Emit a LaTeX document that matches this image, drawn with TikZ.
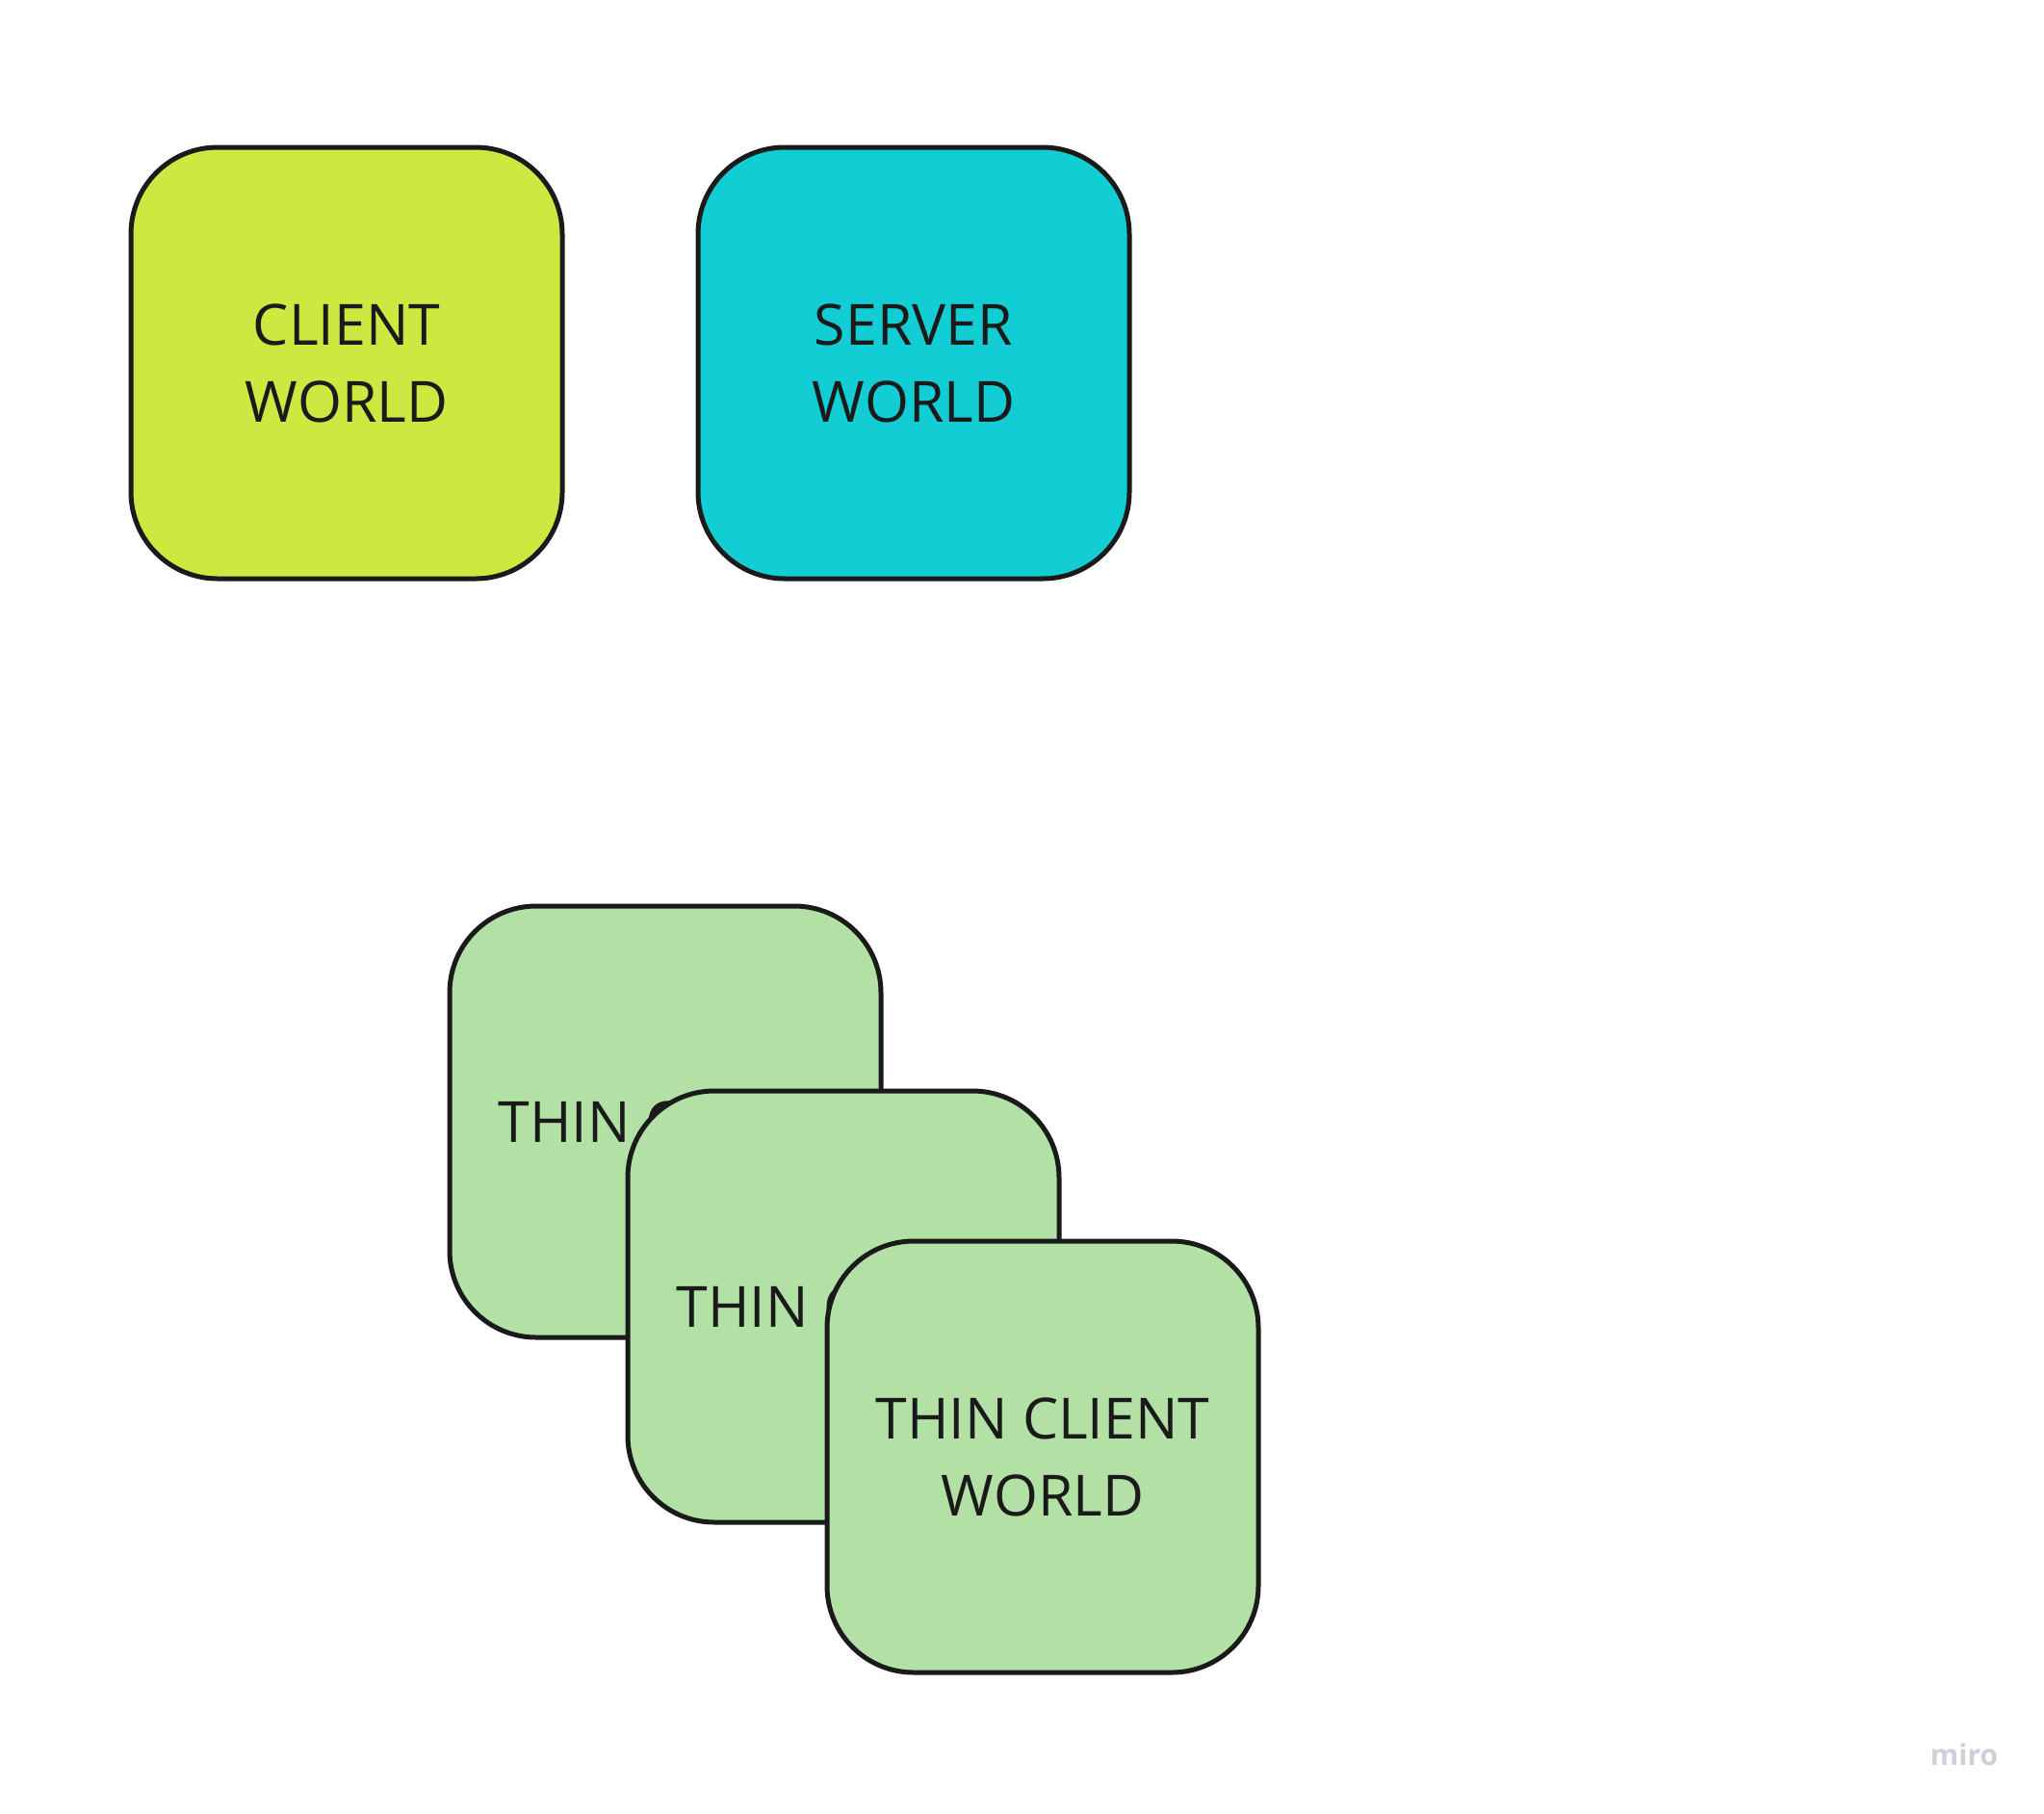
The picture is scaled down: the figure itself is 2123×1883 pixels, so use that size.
\documentclass[tikz,border=0pt]{standalone}
\usepackage{fontspec}
\setmainfont{Open Sans}
\definecolor{clientc}{HTML}{CEE841}
\definecolor{serverc}{HTML}{12CDD4}
\definecolor{thinc}{HTML}{B2E0A5}
\definecolor{strokec}{HTML}{1A1A1A}
\definecolor{miroc}{HTML}{CFCFDC}
\begin{document}
\begin{tikzpicture}[x=1pt,y=-1pt,
  worldbox/.style={draw=strokec, line width=5pt, rounded corners=90pt,
    minimum width=448pt, minimum height=448pt, align=center, text=strokec,
    font=\fontsize{59}{80}\selectfont, inner sep=0pt}]
\useasboundingbox (0,0) rectangle (2123,1883);
\fill[white] (0,0) rectangle (2123,1883);
\node[worldbox, fill=clientc] (client) at (360,377) {CLIENT\\WORLD};
\node[worldbox, fill=serverc] (server) at (949,377) {SERVER\\WORLD};
\node[worldbox, fill=thinc] (thin1) at (691,1165) {THIN CLIENT};
\node[worldbox, fill=thinc] (thin2) at (876,1357) {THIN CLIENT};
\node[worldbox, fill=thinc] (thin3) at (1083,1513) {THIN CLIENT\\WORLD};
\node[text=miroc, font=\fontsize{30}{30}\selectfont\bfseries] (miro) at (2040,1822) {miro};
\end{tikzpicture}
\end{document}
